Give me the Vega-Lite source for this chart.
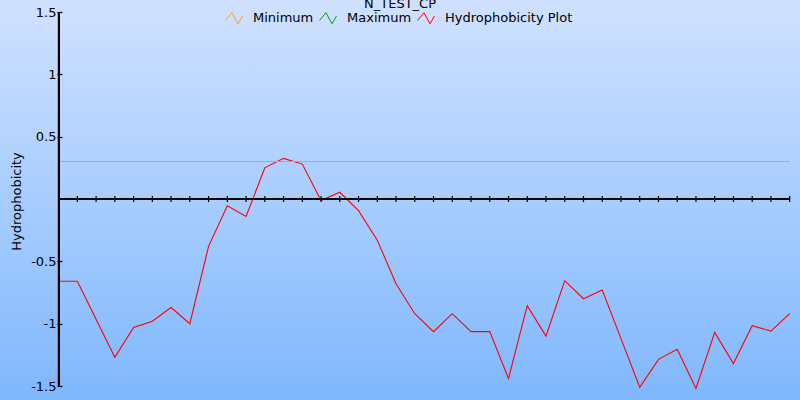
{
  "$schema": "https://vega.github.io/schema/vega-lite/v6.json",
  "width": 800,
  "height": 400,
  "padding": 0,
  "autosize": {"type": "none"},
  "title": {"text": "N_TEST_CP", "anchor": "middle", "frame": "group", "orient": "top", "offset": -21, "baseline": "alphabetic", "font": "DejaVu Sans", "fontSize": 13, "fontWeight": "normal", "color": "#000000"},
  "data": {"values": [
    {"series": "Hydrophobicity Plot", "pos": 0, "value": -0.66},
    {"series": "Hydrophobicity Plot", "pos": 1, "value": -0.66},
    {"series": "Hydrophobicity Plot", "pos": 2, "value": -0.965},
    {"series": "Hydrophobicity Plot", "pos": 3, "value": -1.27},
    {"series": "Hydrophobicity Plot", "pos": 4, "value": -1.03},
    {"series": "Hydrophobicity Plot", "pos": 5, "value": -0.98},
    {"series": "Hydrophobicity Plot", "pos": 6, "value": -0.87},
    {"series": "Hydrophobicity Plot", "pos": 7, "value": -1.0},
    {"series": "Hydrophobicity Plot", "pos": 8, "value": -0.38},
    {"series": "Hydrophobicity Plot", "pos": 9, "value": -0.054},
    {"series": "Hydrophobicity Plot", "pos": 10, "value": -0.14},
    {"series": "Hydrophobicity Plot", "pos": 11, "value": 0.25},
    {"series": "Hydrophobicity Plot", "pos": 12, "value": 0.326},
    {"series": "Hydrophobicity Plot", "pos": 13, "value": 0.28},
    {"series": "Hydrophobicity Plot", "pos": 14, "value": -0.013},
    {"series": "Hydrophobicity Plot", "pos": 15, "value": 0.054},
    {"series": "Hydrophobicity Plot", "pos": 16, "value": -0.094},
    {"series": "Hydrophobicity Plot", "pos": 17, "value": -0.33},
    {"series": "Hydrophobicity Plot", "pos": 18, "value": -0.68},
    {"series": "Hydrophobicity Plot", "pos": 19, "value": -0.92},
    {"series": "Hydrophobicity Plot", "pos": 20, "value": -1.064},
    {"series": "Hydrophobicity Plot", "pos": 21, "value": -0.92},
    {"series": "Hydrophobicity Plot", "pos": 22, "value": -1.064},
    {"series": "Hydrophobicity Plot", "pos": 23, "value": -1.064},
    {"series": "Hydrophobicity Plot", "pos": 24, "value": -1.44},
    {"series": "Hydrophobicity Plot", "pos": 25, "value": -0.855},
    {"series": "Hydrophobicity Plot", "pos": 26, "value": -1.1},
    {"series": "Hydrophobicity Plot", "pos": 27, "value": -0.655},
    {"series": "Hydrophobicity Plot", "pos": 28, "value": -0.8},
    {"series": "Hydrophobicity Plot", "pos": 29, "value": -0.73},
    {"series": "Hydrophobicity Plot", "pos": 30, "value": -1.12},
    {"series": "Hydrophobicity Plot", "pos": 31, "value": -1.51},
    {"series": "Hydrophobicity Plot", "pos": 32, "value": -1.286},
    {"series": "Hydrophobicity Plot", "pos": 33, "value": -1.205},
    {"series": "Hydrophobicity Plot", "pos": 34, "value": -1.52},
    {"series": "Hydrophobicity Plot", "pos": 35, "value": -1.07},
    {"series": "Hydrophobicity Plot", "pos": 36, "value": -1.32},
    {"series": "Hydrophobicity Plot", "pos": 37, "value": -1.016},
    {"series": "Hydrophobicity Plot", "pos": 38, "value": -1.06},
    {"series": "Hydrophobicity Plot", "pos": 39, "value": -0.92},
    {"series": "Minimum", "pos": 0, "value": 0.301},
    {"series": "Minimum", "pos": 39, "value": 0.301}
  ]},
  "layer": [
    {
      "mark": {"type": "line", "strokeWidth": 1.1, "interpolate": "linear"},
      "encoding": {
        "x": {"field": "pos", "type": "quantitative",
          "scale": {"domain": [-3.126, 39.55], "nice": false, "zero": false},
          "axis": null
        },
        "y": {"field": "value", "type": "quantitative",
          "scale": {"domain": [-1.6123, 1.5963], "nice": false, "zero": false},
          "axis": {"orient": "left", "offset": -62, "values": [-1.5, -1, -0.5, 0.5, 1, 1.5], "labelExpr": "toString(datum.value)", "domain": false, "grid": false, "tickSize": 5, "tickWidth": 1.2, "tickColor": "#000000", "labelPadding": 1, "labelFont": "DejaVu Sans", "labelFontSize": 13, "labelColor": "#000000", "title": "Hydrophobicity", "titleFont": "DejaVu Sans", "titleFontSize": 13, "titleFontWeight": "normal", "titleColor": "#000000", "titleAngle": -90, "titleX": -46, "titleY": 201, "titleAlign": "center", "titleBaseline": "middle"}
        },
        "color": {"field": "series", "type": "nominal",
          "scale": {"domain": ["Minimum", "Maximum", "Hydrophobicity Plot"], "range": ["#f2a516", "#119911", "#ff0000"]},
          "legend": {"orient": "none", "legendX": 225, "legendY": 9, "direction": "horizontal", "title": null, "padding": 0, "symbolType": "M-1,0.27L-0.24,-0.65L0.47,0.65L1,-0.26", "symbolSize": 289, "symbolStrokeWidth": 1, "symbolFillColor": "transparent", "labelFont": "DejaVu Sans", "labelFontSize": 13, "labelColor": "#000000", "labelOffset": 10, "columnPadding": 3}
        },
        "detail": {"field": "series"}
      }
    },
    {
      "mark": {"type": "rule", "color": "#000000", "strokeWidth": 1.2},
      "encoding": {
        "x": {"datum": 0, "type": "quantitative", "axis": null},
        "x2": {"datum": 39},
        "y": {"datum": 0, "type": "quantitative"}
      }
    },
    {
      "mark": {"type": "rule", "color": "#000000", "strokeWidth": 1.2},
      "encoding": {
        "x": {"datum": 0, "type": "quantitative", "axis": null},
        "y": {"datum": -1.5, "type": "quantitative"},
        "y2": {"datum": 1.5}
      }
    },
    {
      "transform": [{"filter": "datum.series == 'Hydrophobicity Plot'"}],
      "mark": {"type": "tick", "orient": "vertical", "size": 6, "thickness": 1.2, "color": "#000000", "opacity": 1},
      "encoding": {
        "x": {"field": "pos", "type": "quantitative", "axis": null},
        "y": {"datum": 0, "type": "quantitative"}
      }
    }
  ],
  "config": {
    "view": {"stroke": null, "fill": {"gradient": "linear", "x1": 0, "y1": 0, "x2": 0, "y2": 1, "stops": [{"offset": 0, "color": "#d0e1ff"}, {"offset": 0.5, "color": "#a8cdfe"}, {"offset": 1, "color": "#7fb7fc"}]}},
    "background": "#a8cdfe"
  }
}
